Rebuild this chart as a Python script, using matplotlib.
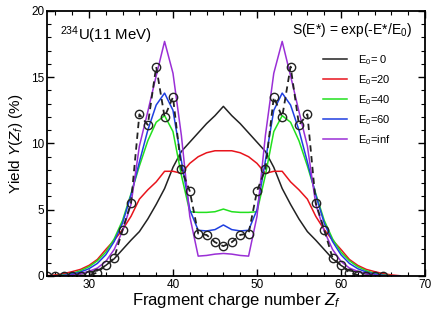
import numpy as np
import matplotlib
matplotlib.use("Agg")
import matplotlib.pyplot as plt
from matplotlib.ticker import MultipleLocator

plt.rcParams["font.family"] = ["Liberation Sans", "DejaVu Sans"]
plt.rcParams["mathtext.fontset"] = "custom"
plt.rcParams["mathtext.rm"] = "Liberation Sans"
plt.rcParams["mathtext.it"] = "Liberation Sans:italic"

# theory, Z = 25..46 (left half, mirrored about Z = 46)
z_half = np.arange(25, 47)
black_half = [0.0, 0.02, 0.05, 0.1, 0.2, 0.3, 0.4, 0.8, 1.3, 2.0, 2.7,
              3.35, 4.3, 5.4, 6.6, 8.2, 9.4, 10.1, 10.8, 11.5, 12.1, 12.8]
red_half = [0.02, 0.08, 0.18, 0.33, 0.5, 0.8, 1.25, 2.0, 2.7, 3.5, 4.5,
            5.8, 6.5, 7.1, 7.9, 7.9, 7.75, 8.5, 9.0, 9.3, 9.45, 9.45]
green_half = [0.0, 0.02, 0.08, 0.2, 0.4, 0.7, 1.15, 1.8, 2.8, 4.2, 6.2,
              8.3, 10.2, 11.6, 12.1, 10.9, 7.6, 4.85, 4.8, 4.8, 4.85, 5.05]
blue_half = [0.0, 0.01, 0.05, 0.15, 0.3, 0.55, 0.95, 1.6, 2.6, 4.0, 6.1,
             8.6, 11.0, 12.9, 13.8, 12.5, 8.7, 5.0, 3.45, 3.4, 3.5, 3.85]
purple_half = [0.0, 0.0, 0.02, 0.06, 0.15, 0.35, 0.6, 1.1, 2.0, 3.4, 5.4,
               9.8, 12.4, 15.1, 17.7, 15.3, 10.6, 4.5, 1.5, 1.55, 1.65, 1.7]

# measured yields
z_exp = np.arange(25, 66)
y_exp = [0.0, 0.0, 0.0, 0.01, 0.03, 0.08, 0.25, 0.83, 1.35, 3.5, 5.5,
         12.2, 11.4, 15.8, 12.0, 13.5, 8.07, 6.4, 3.2, 3.1, 2.55, 2.25,
         2.55, 3.1, 3.2, 6.4, 8.07, 13.5, 12.0, 15.8, 11.4, 12.2, 5.5,
         3.5, 1.35, 0.83, 0.25, 0.08, 0.03, 0.01, 0.0]

labels = ["E$_0$= 0", "E$_0$=20", "E$_0$=40", "E$_0$=60", "E$_0$=inf"]
colors = ["#222222", "#e8141c", "#22e01e", "#1f3fe0", "#9a2fd6"]


def full(half):
    h = np.array(half)
    return np.concatenate([h, h[-2::-1]])


z_th = np.concatenate([z_half, 92 - z_half[-2::-1]])
series = [black_half, red_half, green_half, blue_half, purple_half]

fig = plt.figure(figsize=(4.33, 3.10), dpi=100)
ax = fig.add_axes([0.1085, 0.1097, 0.873, 0.855])

for half, c, lab in zip(series, colors, labels):
    ax.plot(z_th, full(half), color=c, lw=1.1, label=lab)

ax.plot(z_exp, y_exp, color="#222222", ls=(0, (3.5, 2.5)), lw=1.3)
ax.plot(z_exp, y_exp, ls="none", marker="o", ms=6, mfc="none",
        mec="#222222", mew=1.0)

ax.set_xlim(25, 70)
ax.set_ylim(0, 20)
ax.xaxis.set_major_locator(MultipleLocator(10))
ax.xaxis.set_minor_locator(MultipleLocator(2))
ax.yaxis.set_major_locator(MultipleLocator(5))
ax.yaxis.set_minor_locator(MultipleLocator(1))
ax.tick_params(which="both", direction="in", top=True, right=True,
               labelsize=8.5, pad=2)
ax.tick_params(which="major", length=5, width=1.0)
ax.tick_params(which="minor", length=3, width=0.8)
for s in ax.spines.values():
    s.set_linewidth(1.3)

ax.set_xlabel("Fragment charge number $Z_f$", fontsize=12, labelpad=0)
ax.set_ylabel("Yield $Y$($Z_f$) (%)", fontsize=11, labelpad=4)

ax.text(0.035, 0.91, "$^{234}$U(11 MeV)", transform=ax.transAxes,
        fontsize=10.8, va="center", ha="left")
ax.text(0.965, 0.928, "S(E*) = exp(-E*/E$_0$)", transform=ax.transAxes,
        fontsize=10, va="center", ha="right")

ax.legend(loc="upper right", bbox_to_anchor=(0.93, 0.87), frameon=False,
          fontsize=8, handlelength=2.2, handletextpad=1.0,
          labelspacing=0.55, borderpad=0.2)

fig.savefig("out.png", dpi=100)
